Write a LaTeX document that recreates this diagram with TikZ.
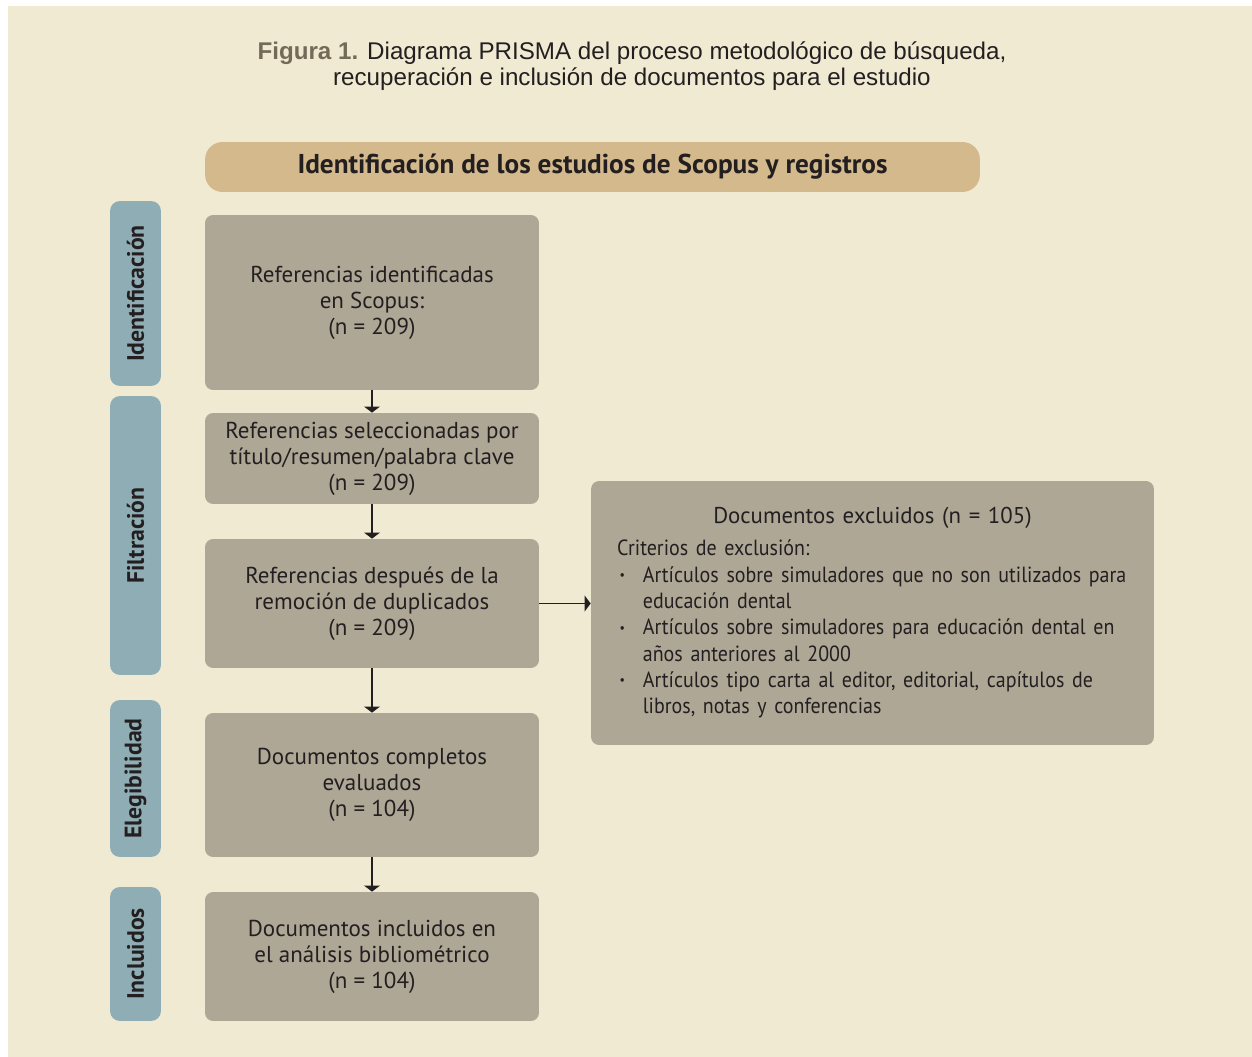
\documentclass[tikz,border=0pt]{standalone}
\usepackage{fontspec}
\usepackage{graphicx}
\setmainfont{PT Sans}
\newfontfamily\titlefont{Liberation Sans}
\newfontfamily\listfont[FakeStretch=0.91]{PT Sans}
\usetikzlibrary{arrows.meta}

\definecolor{cream}{HTML}{F0EAD3}
\definecolor{headtan}{HTML}{D3B98C}
\definecolor{boxgray}{HTML}{AEA796}
\definecolor{tabblue}{HTML}{8FADB4}
\definecolor{figgray}{HTML}{736A58}
\definecolor{ink}{HTML}{231F20}

\newcommand{\boxfont}{\fontsize{13.1}{14.8}\selectfont}
\newcommand{\tabfont}{\bfseries\fontsize{13.5}{15}\selectfont}
\newlength{\bulw}\setlength{\bulw}{14.7pt}
\newcommand{\bul}{\makebox[\bulw][l]{\hspace{1.5pt}\raisebox{0.25ex}{\scalebox{0.6}{\textbullet}}}}

\begin{document}
\begin{tikzpicture}[x=0.02cm, y=-0.02cm,
        box/.style={fill=boxgray, rounded corners=0.16cm, minimum width=6.68cm,
            align=center, text=ink, font=\boxfont},
        tab/.style={fill=tabblue, rounded corners=0.2cm, rotate=90,
            minimum height=1.02cm, text=ink, font=\tabfont},
        flow/.style={-{Triangle[width=9pt,length=3.5pt]}, line width=0.9pt, draw=ink}]
        \useasboundingbox (0,0) rectangle (1252,1057);
        \fill[white] (0,0) rectangle (1252,1057);
        \fill[cream] (8,6) rectangle (1252,1057);

        % caption
        \node[align=center, text=ink, font=\titlefont\fontsize{13.75}{14.8}\selectfont] (title) at (632,66)
            {\textcolor{figgray}{\bfseries Figura 1.} Diagrama PRISMA del proceso metodológico de búsqueda,\\
             recuperación e inclusión de documentos para el estudio};

        \node[fill=headtan, rounded corners=0.35cm, minimum width=15.5cm, minimum height=1cm,
            text=ink, font=\bfseries\fontsize{15.5}{17}\selectfont] (head) at (592.5,167)
            {Identificación de los estudios de Scopus y registros};

        % stages
        \node[tab, minimum width=3.7cm] (tabid) at (135.5,293.5) {Identificación};
        \node[tab, minimum width=5.58cm] (tabfil) at (135.5,535.5) {Filtración};
        \node[tab, minimum width=3.14cm] (tabeleg) at (135.5,778.5) {Elegibilidad};
        \node[tab, minimum width=2.68cm] (tabinc) at (135.5,954) {Incluidos};

        % flow boxes
        \node[box, minimum height=3.5cm] (ident) at (372,302.5)
            {Referencias identificadas\\ en Scopus:\\ (n = 209)};
        \node[box, minimum height=1.82cm] (select) at (372,458.5)
            {Referencias seleccionadas por\\ título/resumen/palabra clave\\ (n = 209)};
        \node[box, minimum height=2.58cm] (dupl) at (372,603.5)
            {Referencias después de la\\ remoción de duplicados\\ (n = 209)};
        \node[box, minimum height=2.88cm] (eval) at (372,785)
            {Documentos completos\\ evaluados\\ (n = 104)};
        \node[box, minimum height=2.58cm] (incl) at (372,956.5)
            {Documentos incluidos en\\ el análisis bibliométrico\\ (n = 104)};

        \node[box, align=left, minimum height=5.28cm, text width=10.22cm, inner xsep=0.52cm] (excl) at (872.5,613)
            {{\centering\fontsize{13}{14.8}\selectfont Documentos excluidos (n = 105)\par}\vspace{3.2pt}
             {\listfont\fontsize{12.5}{15}\selectfont
             \mbox{Criterios de exclusión:}\\
             \mbox{\bul Artículos sobre simuladores que no son utilizados para}\\
             \mbox{\hspace*{\bulw}educación dental}\\
             \mbox{\bul Artículos sobre simuladores para educación dental en}\\
             \mbox{\hspace*{\bulw}años anteriores al 2000}\\
             \mbox{\bul Artículos tipo carta al editor, editorial, capítulos de}\\
             \mbox{\hspace*{\bulw}libros, notas y conferencias}\par}};

        \draw[flow] (ident) -- (select);
        \draw[flow] (select) -- (dupl);
        \draw[flow] (dupl) -- (eval);
        \draw[flow] (eval) -- (incl);
        \draw[flow] (dupl.east) -- (dupl.east -| excl.west);
    \end{tikzpicture}
\end{document}
